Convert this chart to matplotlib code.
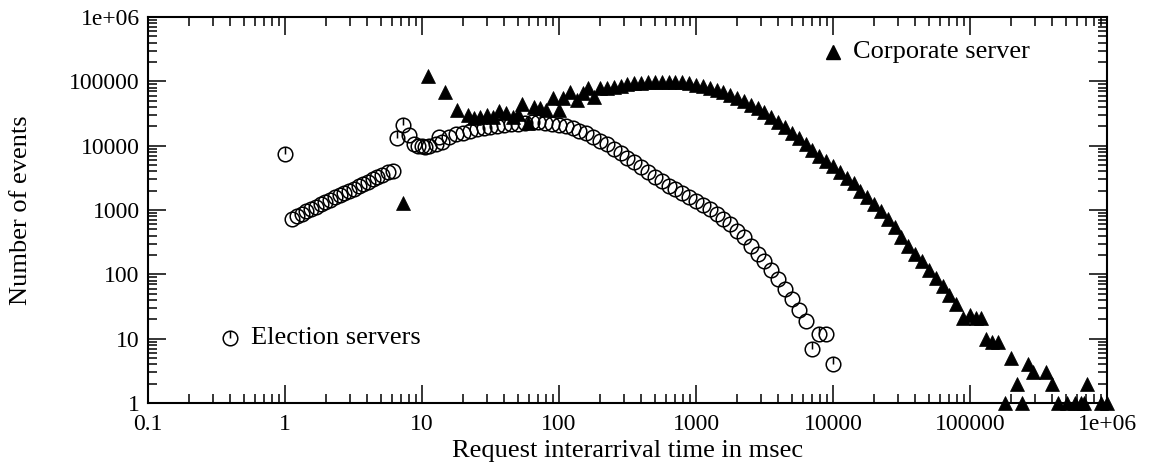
import matplotlib
matplotlib.use('Agg')
import matplotlib.pyplot as plt
from matplotlib.path import Path
from matplotlib.ticker import FixedLocator, FixedFormatter, LogLocator, NullFormatter

# Election servers: interarrival time (msec) and number of events
elect_x = [1.12, 1.22, 1.32, 1.43, 1.55, 1.68, 1.82, 1.97, 2.13, 2.31, 2.5, 2.71, 2.93, 3.17,
           3.44, 3.72, 4.03, 4.37, 4.73, 5.12, 5.6, 6.1,
           8.0, 8.7, 9.4, 10, 10.6, 11.2, 12.6, 13.4, 14.1, 15.8, 17.8, 20, 22.4, 25.1, 28.2,
           31.6, 35.5, 39.8, 44.7, 50.1, 56.2, 63.1, 70.8, 79.4, 89.1,
           100, 112, 126, 141, 158, 178, 200, 224, 251, 282, 316, 355, 398, 447, 501, 562,
           631, 708, 794, 891, 1000, 1122, 1259, 1413, 1585, 1778, 1995, 2239, 2512, 2818,
           3162, 3548, 3981, 4467, 5012, 5623, 6310, 8913]
elect_y = [720, 800, 880, 960, 1050, 1130, 1230, 1340, 1450, 1580, 1700, 1850, 2000, 2150,
           2350, 2550, 2750, 3000, 3250, 3500, 3900, 4100,
           14500, 10500, 9800, 9800, 9700, 10000, 10500, 13500, 11500, 13500, 15000, 16000,
           17000, 18000, 18500, 19500, 20000, 21000, 21500, 22000, 22500, 23000, 23000,
           22500, 22000,
           21000, 20000, 18500, 17000, 15500, 13500, 12000, 10500, 9000, 7700, 6500, 5500,
           4600, 3900, 3300, 2800, 2400, 2100, 1850, 1600, 1400, 1200, 1030, 870, 730, 600,
           480, 380, 280, 210, 160, 118, 85, 60, 42, 28, 19, 12]

# election points drawn with the small error tick
elect_tick_x = [1.0, 6.56, 7.25, 7079, 7943, 10000]
elect_tick_y = [7300, 13000, 21000, 7, 12, 4]

# Corporate server
corp_x = [7.25, 11, 14.7, 18, 21.7, 24, 26.5, 29.7, 33, 36.6, 41, 46, 50, 53.6, 59, 65.6,
          72.6, 81, 90, 100, 107, 120, 135, 150, 163, 180,
          200, 224, 251, 282, 316, 355, 398, 447, 501, 562, 631, 708, 794, 891, 1000, 1122,
          1259, 1413, 1585, 1778, 1995, 2239, 2512, 2818, 3162, 3548, 3981, 4467, 5012,
          5623, 6310, 7079, 7943, 8913, 10000, 11220, 12590, 14130, 15850, 17780, 19950,
          22390, 25120, 28180, 31620, 35480, 39810, 44670, 50120, 56230, 63100, 70790,
          79430, 89000, 100000, 110000, 120000, 130000, 145000, 160000, 180000, 200000,
          220000, 240000, 265000, 290000, 360000, 400000, 440000, 510000, 580000, 650000,
          680000, 720000, 900000, 1000000]
corp_y = [1280, 120000, 68000, 36000, 30000, 27000, 28000, 30000, 28000, 34000, 32000, 28000,
          31000, 45000, 22500, 40000, 38000, 36000, 55000, 36000, 55000, 68000, 51000, 66000,
          78000, 57000,
          80000, 80000, 82000, 86000, 90000, 93000, 95000, 97000, 98000, 99000, 99000, 98000,
          96000, 93000, 89000, 84000, 79000, 73000, 68000, 62000, 55000, 49000, 43000, 38000,
          33000, 28000, 23500, 19500, 16000, 13000, 10500, 8500, 7000, 5800, 4800, 3900,
          3200, 2600, 2000, 1600, 1250, 950, 730, 540, 380, 280, 210, 160, 118, 88, 65, 47,
          35, 21, 23, 21, 21, 10, 9, 9, 1, 5, 2, 1, 4, 3, 3, 2, 1, 1, 1, 1, 1, 2, 1, 1]

x_ticks = [0.1, 1, 10, 100, 1000, 10000, 100000, 1000000]
x_labels = ['0.1', '1', '10', '100', '1000', '10000', '100000', '1e+06']
y_ticks = [1, 10, 100, 1000, 10000, 100000, 1000000]
y_labels = ['1', '10', '100', '1000', '10000', '100000', '1e+06']

plt.rcParams['font.family'] = ['Liberation Serif', 'DejaVu Serif']

# circle with a short line from the centre to the top
tick_circle = Path.make_compound_path(
    Path.unit_circle(), Path([(0, 0), (0, 1)], [Path.MOVETO, Path.LINETO]))

fig = plt.figure(figsize=(11.5, 4.66), dpi=100)
ax = fig.add_axes([0.1287, 0.1352, 0.8339, 0.8283])

ax.plot(corp_x, corp_y, linestyle='none', marker='^', markersize=9.5, color='black',
        markeredgewidth=0.5, clip_on=False, zorder=3)
ax.plot(elect_x, elect_y, linestyle='none', marker='o', markersize=10.5,
        markerfacecolor='none', markeredgecolor='black', markeredgewidth=1.1,
        clip_on=False, zorder=4)
ax.plot(elect_tick_x, elect_tick_y, linestyle='none', marker=tick_circle, markersize=10.5,
        markerfacecolor='none', markeredgecolor='black', markeredgewidth=1.1,
        clip_on=False, zorder=4)

ax.set_xscale('log')
ax.set_yscale('log')
ax.set_xlim(0.1, 1e6)
ax.set_ylim(1, 1e6)

ax.xaxis.set_major_locator(FixedLocator(x_ticks))
ax.xaxis.set_major_formatter(FixedFormatter(x_labels))
ax.yaxis.set_major_locator(FixedLocator(y_ticks))
ax.yaxis.set_major_formatter(FixedFormatter(y_labels))
ax.xaxis.set_minor_locator(LogLocator(base=10, subs=range(2, 10), numticks=20))
ax.yaxis.set_minor_locator(LogLocator(base=10, subs=range(2, 10), numticks=20))
ax.xaxis.set_minor_formatter(NullFormatter())
ax.yaxis.set_minor_formatter(NullFormatter())

ax.tick_params(which='both', direction='in', top=True, right=True, width=1.1,
               labelsize=17)
ax.tick_params(axis='x', pad=8)
ax.tick_params(axis='y', pad=6)
ax.tick_params(which='major', length=13)
ax.tick_params(which='minor', length=6.5)
for sp in ax.spines.values():
    sp.set_linewidth(1.5)

ax.set_xlabel('Request interarrival time in msec', fontsize=19)
ax.set_ylabel('Number of events', fontsize=19)
ax.xaxis.set_label_coords(0.5, -0.095)
ax.yaxis.set_label_coords(-0.121, 0.5)

# legend entries placed by hand like the original
ax.plot([0.7145], [0.909], transform=ax.transAxes, marker='^', markersize=9.5,
        color='black', linestyle='none', clip_on=False)
ax.text(0.735, 0.909, 'Corporate server', transform=ax.transAxes, fontsize=19,
        va='center', ha='left')
ax.plot([0.0855], [0.168], transform=ax.transAxes, marker=tick_circle, markersize=10.5,
        markerfacecolor='none', markeredgecolor='black', markeredgewidth=1.1,
        linestyle='none', clip_on=False)
ax.text(0.1074, 0.168, 'Election servers', transform=ax.transAxes, fontsize=19,
        va='center', ha='left')

fig.savefig('out.png', dpi=100)
